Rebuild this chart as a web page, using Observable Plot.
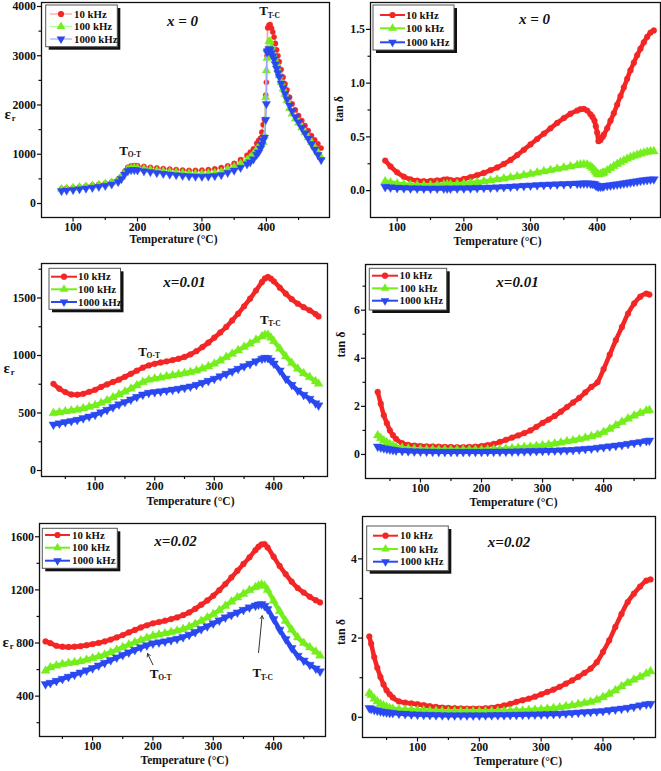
<!DOCTYPE html>
<html><head><meta charset="utf-8">
<script src="https://cdn.jsdelivr.net/npm/d3@7"></script>
<script src="https://cdn.jsdelivr.net/npm/@observablehq/plot@0.6"></script>
<style>
html,body{margin:0;padding:0;background:#fff;}
#wrap{position:relative;width:661px;height:771px;overflow:hidden;background:#fff;}
#wrap svg{position:absolute;max-width:none;background:none !important;}
</style></head><body><div id="wrap"></div>
<script>
// ---------- data ----------
const freqs = ["10 kHz", "100 kHz", "1000 kHz"];
const xTicks = [100, 200, 300, 400];
const xMinor = [50, 150, 250, 350, 450];

// x = 0 : permittivity
const T1 = [82,90,100,110,120,130,140,150,160,170,175,180,185,190,195,200,210,220,230,240,250,260,270,280,290,300,310,320,330,340,350,360,370,375,380,385,388,391,393,395,397,399,400,401,402,404,406,408,410,412,414,416,418,420,423,426,429,432,436,440,445,450,455,460,465,470,475,480,485];
const eps0_10 = [300,312,325,340,355,372,390,410,440,495,550,650,735,765,772,768,752,736,722,710,700,690,678,672,672,676,686,705,730,765,815,890,980,1042,1110,1220,1280,1330,1448,1600,1705,2200,2460,3000,3567,3620,3634,3560,3480,3380,3250,3120,3000,2880,2720,2565,2430,2308,2158,2024,1900,1787,1685,1584,1480,1380,1295,1211,1125];
const eps0_100 = [295,305,318,332,346,362,380,400,430,480,535,630,700,722,725,720,702,685,670,655,642,632,620,612,608,608,614,625,645,700,745,810,885,940,1010,1100,1150,1200,1230,1245,1380,2158,2700,2950,3120,3290,3290,3180,3070,2990,2910,2830,2720,2600,2460,2330,2220,2091,1930,1820,1720,1640,1540,1440,1340,1240,1140,1040,940];
const eps0_1000 = [255,265,278,292,306,322,340,360,390,440,500,590,660,680,680,675,658,640,622,605,590,578,565,555,548,545,550,560,580,625,670,730,800,840,900,990,1040,1120,1200,1280,1340,1700,2024,3072,3100,3140,3120,3060,2990,2930,2830,2740,2650,2570,2440,2342,2230,2120,1990,1880,1760,1650,1540,1430,1320,1210,1100,990,885];

// x = 0 : tan delta
const T2 = [82,90,100,110,120,130,140,150,160,170,175,180,190,200,210,220,230,240,250,260,270,280,290,300,310,320,330,340,350,360,370,375,380,385,390,393,396,398,400,402,405,408,410,415,420,425,430,435,440,445,450,455,460,465,470,475,480,485];
const tan0_10 = [0.28,0.225,0.17,0.13,0.105,0.092,0.088,0.09,0.095,0.102,0.105,0.098,0.097,0.108,0.125,0.145,0.165,0.19,0.215,0.248,0.285,0.33,0.38,0.43,0.48,0.53,0.58,0.63,0.675,0.715,0.745,0.758,0.76,0.745,0.71,0.685,0.65,0.6,0.54,0.46,0.47,0.5,0.52,0.58,0.65,0.72,0.8,0.88,0.96,1.04,1.12,1.19,1.26,1.32,1.38,1.43,1.47,1.49];
const tan0_100 = [0.085,0.075,0.065,0.058,0.053,0.05,0.05,0.05,0.052,0.055,0.057,0.058,0.06,0.064,0.07,0.077,0.085,0.094,0.103,0.112,0.122,0.132,0.143,0.155,0.167,0.179,0.19,0.202,0.213,0.225,0.236,0.242,0.245,0.242,0.226,0.21,0.19,0.175,0.158,0.15,0.155,0.162,0.168,0.188,0.208,0.228,0.247,0.264,0.28,0.296,0.31,0.322,0.333,0.343,0.352,0.36,0.366,0.365];
const tan0_1000 = [0.035,0.03,0.026,0.024,0.022,0.021,0.02,0.02,0.02,0.02,0.02,0.02,0.021,0.022,0.023,0.025,0.027,0.029,0.031,0.034,0.037,0.041,0.045,0.048,0.051,0.054,0.057,0.059,0.061,0.063,0.065,0.066,0.067,0.067,0.066,0.064,0.06,0.05,0.042,0.037,0.038,0.04,0.042,0.046,0.05,0.054,0.058,0.062,0.067,0.072,0.077,0.082,0.087,0.092,0.097,0.1,0.104,0.106];

// x = 0.01 : permittivity
const T3 = [30,40,50,60,70,80,90,100,110,120,130,140,150,160,170,180,190,200,210,220,230,240,250,260,270,280,290,300,310,320,330,340,350,360,370,380,385,390,395,400,410,420,430,440,450,460,470,475];
const eps1_10 = [754,711,682,661,659,667,684,702,726,749,770,790,815,841,868,894,914,928,939,949,960,972,988,1010,1038,1073,1112,1155,1200,1248,1305,1364,1428,1494,1565,1639,1670,1683,1668,1645,1590,1538,1490,1451,1420,1393,1360,1340];
const eps1_100 = [499,506,514,521,528,540,553,566,587,609,635,661,686,711,740,769,789,798,808,818,827,836,846,856,869,885,905,928,956,986,1015,1045,1074,1103,1135,1166,1180,1180,1155,1125,1059,992,935,885,845,812,775,754];
const eps1_1000 = [400,410,421,431,441,455,470,485,506,528,551,575,596,618,640,661,676,682,689,696,703,711,721,731,745,763,780,798,820,841,863,885,907,928,950,972,980,978,957,930,870,798,745,696,658,624,585,566];

// x = 0.01 : tan delta
const T4 = [30,35,40,45,50,55,60,70,80,90,100,110,120,130,140,150,160,170,180,190,200,210,220,230,240,250,260,270,280,290,300,310,320,330,340,350,360,370,380,390,400,410,420,430,440,450,460,470,475];
const tan1_10 = [2.6,2.11,1.63,1.3,1.0,0.8,0.65,0.47,0.4,0.37,0.35,0.34,0.33,0.32,0.31,0.31,0.3,0.3,0.31,0.32,0.35,0.39,0.44,0.52,0.61,0.7,0.79,0.89,1.0,1.15,1.31,1.45,1.6,1.78,1.97,2.16,2.35,2.58,2.81,3.0,3.55,4.15,4.75,5.3,5.86,6.28,6.56,6.69,6.65];
const tan1_100 = [0.79,0.68,0.58,0.5,0.42,0.36,0.31,0.27,0.24,0.22,0.21,0.2,0.2,0.19,0.19,0.19,0.19,0.19,0.19,0.19,0.19,0.2,0.21,0.22,0.235,0.25,0.27,0.3,0.32,0.35,0.375,0.41,0.45,0.49,0.54,0.58,0.63,0.69,0.75,0.82,0.93,1.06,1.21,1.35,1.49,1.61,1.72,1.82,1.84];
const tan1_1000 = [0.33,0.29,0.26,0.23,0.21,0.19,0.17,0.15,0.14,0.13,0.125,0.12,0.115,0.11,0.11,0.11,0.11,0.11,0.11,0.11,0.11,0.115,0.115,0.12,0.12,0.125,0.13,0.135,0.14,0.145,0.15,0.16,0.165,0.175,0.18,0.19,0.21,0.23,0.25,0.28,0.31,0.34,0.37,0.4,0.44,0.48,0.52,0.56,0.58];

// x = 0.02 : permittivity
const T5 = [22,30,40,50,60,70,80,90,100,110,120,130,140,150,160,170,180,190,200,210,220,230,240,250,260,270,280,290,300,310,320,330,340,350,360,370,375,380,385,390,400,410,420,430,440,450,460,470,477];
const eps2_10 = [812,799,779,772,770,772,776,783,792,801,812,826,842,860,880,898,917,933,948,958,968,980,993,1010,1030,1057,1088,1120,1156,1198,1244,1294,1344,1395,1445,1500,1525,1542,1545,1520,1450,1380,1319,1262,1214,1180,1148,1122,1106];
const eps2_100 = [591,616,630,641,648,654,662,673,686,698,711,730,749,768,787,805,822,838,854,863,872,882,892,905,922,943,967,992,1018,1048,1080,1112,1143,1170,1198,1220,1232,1239,1231,1200,1118,1040,967,900,842,800,767,735,705];
const eps2_1000 = [490,500,515,530,546,562,578,594,611,631,651,671,691,710,729,748,767,783,797,805,812,822,832,845,862,882,905,926,948,970,993,1012,1030,1050,1068,1082,1090,1093,1080,1055,980,900,829,762,704,668,636,608,586];

// x = 0.02 : tan delta
const T6 = [22,25,30,35,40,45,50,55,60,70,80,90,100,110,120,130,140,150,160,170,180,190,200,210,220,230,240,250,260,270,280,290,300,310,320,330,340,350,360,370,380,390,400,410,420,430,440,450,460,470,477];
const tan2_10 = [2.04,1.86,1.52,1.25,1.02,0.83,0.68,0.58,0.5,0.4,0.37,0.35,0.33,0.305,0.28,0.26,0.245,0.235,0.228,0.222,0.22,0.22,0.22,0.228,0.24,0.265,0.3,0.34,0.39,0.43,0.47,0.52,0.58,0.64,0.7,0.77,0.85,0.93,1.02,1.12,1.23,1.39,1.65,1.94,2.28,2.61,2.91,3.12,3.3,3.45,3.48];
const tan2_100 = [0.61,0.56,0.47,0.4,0.34,0.3,0.26,0.23,0.215,0.2,0.19,0.185,0.18,0.172,0.165,0.16,0.155,0.15,0.15,0.15,0.15,0.15,0.15,0.152,0.154,0.156,0.158,0.16,0.165,0.17,0.18,0.19,0.2,0.215,0.23,0.25,0.275,0.3,0.33,0.36,0.39,0.44,0.51,0.59,0.68,0.78,0.87,0.95,1.02,1.1,1.16];
const tan2_1000 = [0.235,0.215,0.19,0.17,0.15,0.135,0.125,0.115,0.11,0.095,0.085,0.077,0.07,0.065,0.06,0.057,0.053,0.05,0.05,0.05,0.05,0.05,0.05,0.052,0.054,0.056,0.058,0.06,0.063,0.066,0.07,0.072,0.075,0.08,0.085,0.09,0.1,0.11,0.12,0.13,0.14,0.15,0.16,0.18,0.2,0.22,0.24,0.27,0.3,0.33,0.34];

// annotations (data coordinates)
const notes0 = [{T:178.5, v:1076, sub:"O-T"}, {T:395.8, v:3903, sub:"T-C"}];
const notes1 = [{T:179.7, v:1034, sub:"O-T"}, {T:384, v:1311, sub:"T-C"}];
const notes2 = [{T:202, v:566, sub:"O-T"}, {T:372, v:572, sub:"T-C"}];
const arrows2 = [{T1:200, v1:636, T2:191, v2:721}, {T1:375, v1:728, T2:381, v2:1005}];

// ---------- style ----------
const font = "'Liberation Serif','Times New Roman',serif";
const colors = ["#f32525", "#74ee1c", "#2a48f0"];
const lightColors = ["#ff9c9c", "#a6ff98", "#9aa8ff"];
const symbols = ["circle", "triangle", "triangle"];
const rotations = [0, 0, 180];
const intFmt = d => String(d);

const panels = [
  {left:0, top:0, width:330, height:250, mt:2, mr:1, mb:33, ml:41, xd:[51,498], yd:[-284,4081],
   T:T1, vals:[eps0_10,eps0_100,eps0_1000], yt:[0,1000,2000,3000,4000], ym:[500,1500,2500,3500], fmt:intFmt,
   thin:true, title:"x = 0", tdx:-3, tdy:13, ylab:"eps", ldx:-33, ldy:4, xdx:-12, xdy:25.5, notes:notes0},
  {left:330, top:0, width:331, height:250, mt:2, mr:1, mb:33, ml:40, xd:[60,495], yd:[-0.25,1.75],
   T:T2, vals:[tan0_10,tan0_100,tan0_1000], yt:[0,0.5,1,1.5], ym:[0.25,0.75,1.25], fmt:d3.format(".1f"),
   title:"x = 0", tdx:19, tdy:11, ylab:"tan", ldx:-31, ldy:12, xdx:-18, xdy:27.5},
  {left:0, top:250, width:330, height:260, mt:13, mr:3, mb:34, ml:41, xd:[10,490], yd:[-52,1800],
   T:T3, vals:[eps1_10,eps1_100,eps1_1000], yt:[0,500,1000,1500], ym:[250,750,1250,1750], fmt:intFmt,
   title:"x=0.01", tdx:0, tdy:13, ylab:"eps", ldx:-34, ldy:-2, xdx:6, xdy:28, notes:notes1},
  {left:330, top:250, width:331, height:260, mt:14, mr:6, mb:32, ml:35, xd:[10,485], yd:[-1,7.9],
   T:T4, vals:[tan1_10,tan1_100,tan1_1000], yt:[0,2,4,6], ym:[1,3,5,7], fmt:intFmt,
   title:"x=0.01", tdx:7, tdy:12, ylab:"tan", ldx:-24, ldy:-14, xdx:3, xdy:27.5},
  {left:0, top:500, width:330, height:271, mt:23, mr:5, mb:35, ml:39, xd:[12,486], yd:[96,1700],
   T:T5, vals:[eps2_10,eps2_100,eps2_1000], yt:[400,800,1200,1600], ym:[200,600,1000,1400], fmt:intFmt,
   title:"x=0.02", tdx:-7, tdy:12, ylab:"eps", ldx:-33, ldy:12, xdx:2, xdy:27.5, notes:notes2, arrows:arrows2},
  {left:330, top:500, width:331, height:271, mt:16, mr:6, mb:34, ml:32, xd:[11,485], yd:[-0.51,5.07],
   T:T6, vals:[tan2_10,tan2_100,tan2_1000], yt:[0,2,4], ym:[1,3], fmt:intFmt,
   title:"x=0.02", tdx:0, tdy:20, ylab:"tan", ldx:-21, ldy:18, xdx:9, xdy:27.5}
];

const legends = [
  {x:45.7, y:5, w:71.6, h:41.7, rows:[14,26.5,39], lx:[50,72], tx:74, thin:true},
  {x:373, y:5, w:81, h:45, rows:[15,28.3,42.3], lx:[380,405], tx:406},
  {x:49, y:268.3, w:71.5, h:41, rows:[276.7,289.3,302], lx:[51,77], tx:78},
  {x:369.3, y:268.3, w:77.4, h:41.7, rows:[275.7,288.3,300.7], lx:[372,398], tx:399.5},
  {x:42.3, y:528.3, w:75, h:40, rows:[535,547.7,560.7], lx:[45,70], tx:72},
  {x:366.7, y:526, w:81.6, h:44.7, rows:[535.7,549,561.7], lx:[373,398], tx:400}
];

const wrap = document.getElementById("wrap");

panels.forEach(p => {
  const inX = t => t >= p.xd[0] && t <= p.xd[1];
  const inY = t => t >= Math.min(...p.yd) && t <= Math.max(...p.yd);
  const marks = [];
  marks.push(Plot.axisX({ticks: xTicks.filter(inX), tickSize: 4.5, tickPadding: 1, label: null, anchor: "bottom", fontSize: 11.8, fontWeight: "bold", strokeWidth: 1.2}));
  marks.push(Plot.axisX({ticks: xMinor.filter(inX), tickSize: 3, tickFormat: () => "", label: null, anchor: "bottom", strokeWidth: 1.2}));
  marks.push(Plot.axisY({ticks: p.yt.filter(inY), tickSize: 4, tickPadding: 1.5, tickFormat: p.fmt, label: null, anchor: "left", fontSize: 11.8, fontWeight: "bold", strokeWidth: 1.2}));
  marks.push(Plot.axisY({ticks: p.ym.filter(inY), tickSize: 2.5, tickFormat: () => "", label: null, anchor: "left", strokeWidth: 1.2}));

  p.vals.forEach((vals, j) => {
    const rows = p.T.map((t, i) => ({T: t, v: vals[i], f: freqs[j]}));
    if (p.thin) {
      marks.push(Plot.line(rows, {x: "T", y: "v", stroke: lightColors[j], strokeWidth: 1.6, curve: "monotone-x"}));
      marks.push(Plot.dot(rows, {x: "T", y: "v", symbol: symbols[j], r: j === 0 ? 2.6 : 3.1, fill: colors[j], stroke: colors[j], strokeWidth: 0.4, rotate: rotations[j]}));
    } else {
      marks.push(Plot.line(rows, {x: "T", y: "v", stroke: colors[j], strokeWidth: 4.5, curve: "monotone-x"}));
      marks.push(Plot.dot(rows, {x: "T", y: "v", symbol: symbols[j], r: j === 0 ? 2.9 : 3.3, fill: colors[j], stroke: colors[j], strokeWidth: 0.4, rotate: rotations[j]}));
    }
  });

  if (p.notes) {
    marks.push(Plot.text(p.notes, {x: "T", y: "v", text: () => "T", fontSize: 13, fontWeight: "bold", fill: "#111"}));
    marks.push(Plot.text(p.notes, {x: "T", y: "v", text: "sub", fontSize: 7.5, fontWeight: "bold", textAnchor: "start", dx: 4, dy: 4, fill: "#111"}));
  }
  if (p.arrows) {
    marks.push(Plot.arrow(p.arrows, {x1: "T1", y1: "v1", x2: "T2", y2: "v2", stroke: "#333", strokeWidth: 1, headLength: 5}));
  }

  // panel title
  marks.push(Plot.text([0], {frameAnchor: "top", dx: p.tdx, dy: p.tdy, text: () => p.title, fontSize: 15, fontWeight: "bold", fontStyle: "italic", fill: "#111"}));
  // x label
  marks.push(Plot.text([0], {frameAnchor: "bottom", dx: p.xdx, dy: p.xdy, text: () => "Temperature (°C)", fontSize: 11.6, fontWeight: "bold", fill: "#111"}));
  // y label
  if (p.ylab === "eps") {
    marks.push(Plot.text([0], {frameAnchor: "left", dx: p.ldx - 4, dy: p.ldy, text: () => "ε", fontSize: 15, fontWeight: "bold", textAnchor: "start", fill: "#111"}));
    marks.push(Plot.text([0], {frameAnchor: "left", dx: p.ldx + 3.2, dy: p.ldy + 4.5, text: () => "r", fontSize: 8.5, fontWeight: "bold", textAnchor: "start", fill: "#111"}));
  } else {
    marks.push(Plot.text([0], {frameAnchor: "left", dx: p.ldx, dy: p.ldy, text: () => "tan δ", fontSize: 12, fontWeight: "bold", rotate: -90, fill: "#111"}));
  }
  marks.push(Plot.frame({stroke: "#111", strokeWidth: 1.3}));

  const chart = Plot.plot({
    width: p.width, height: p.height,
    marginTop: p.mt, marginRight: p.mr, marginBottom: p.mb, marginLeft: p.ml,
    x: {domain: p.xd}, y: {domain: p.yd},
    style: {fontFamily: font, fontSize: "12px", background: "none", color: "#111", overflow: "visible"},
    marks
  });
  chart.style.left = p.left + "px";
  chart.style.top = p.top + "px";
  wrap.appendChild(chart);
});

// legends overlay
const svg = d3.select(wrap).append("svg")
  .attr("width", 661).attr("height", 771)
  .style("left", "0px").style("top", "0px").style("pointer-events", "none");
legends.forEach(L => {
  const g = svg.append("g");
  g.append("rect").attr("x", L.x + 3).attr("y", L.y + 3).attr("width", L.w).attr("height", L.h).attr("fill", "#111");
  g.append("rect").attr("x", L.x).attr("y", L.y).attr("width", L.w).attr("height", L.h).attr("fill", "#fff").attr("stroke", "#555").attr("stroke-width", 1);
  freqs.forEach((f, j) => {
    const y = L.rows[j];
    g.append("line").attr("x1", L.lx[0]).attr("x2", L.lx[1]).attr("y1", y).attr("y2", y)
      .attr("stroke", L.thin ? lightColors[j] : colors[j]).attr("stroke-width", L.thin ? 1.2 : 2);
    const sym = j === 0 ? d3.symbolCircle : d3.symbolTriangle;
    g.append("path").attr("d", d3.symbol(sym, j === 0 ? 30 : 32)())
      .attr("transform", `translate(${(L.lx[0] + L.lx[1]) / 2},${y}) rotate(${rotations[j]})`)
      .attr("fill", colors[j]);
    g.append("text").attr("x", L.tx).attr("y", y).attr("dy", "0.35em")
      .attr("font-family", font).attr("font-weight", "bold").attr("font-size", 10.8).attr("fill", "#111")
      .text(f);
  });
});
</script></body></html>
